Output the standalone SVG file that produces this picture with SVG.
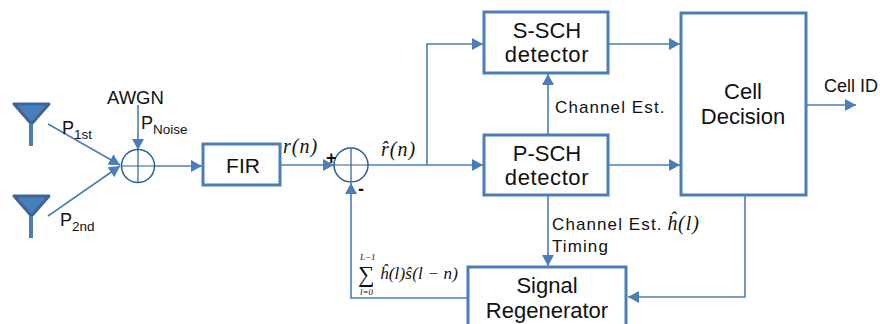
<svg xmlns="http://www.w3.org/2000/svg" width="880" height="324" viewBox="0 0 880 324">
<style>
.box{fill:#fff;stroke:#4a7ebb;stroke-width:3}
.c{fill:none;stroke:#4a7ebb;stroke-width:1.6}
.sum{fill:#fff;stroke:#2f5f96;stroke-width:1.5}
.sx{stroke:#2f5f96;stroke-width:1.2}
text{font-family:"Liberation Sans",Arial,sans-serif;fill:#111}
.b{font-size:22px;text-anchor:middle}
.l{font-size:18px}
.t{font-size:17px;letter-spacing:1.1px}
.s{font-size:13.500px}
.m{font-family:"Liberation Serif","Times New Roman",serif;font-style:italic;font-size:20px;letter-spacing:1px}
.n{font-family:"Liberation Serif","Times New Roman",serif;font-style:italic;font-size:9px}
</style>
<defs>
<marker id="a" markerUnits="userSpaceOnUse" markerWidth="12" markerHeight="12" refX="11" refY="6" orient="auto"><path d="M0 0L11 6L0 12Z" fill="#4a7ebb"/></marker>
<g id="ant"><path d="M14 0H49L31.500 20Z" fill="#4a7ebb" stroke="#3c6595" stroke-width="3" stroke-linejoin="round"/><path d="M31 20V42" stroke="#4a7ebb" stroke-width="4"/></g>
</defs>
<g id="connectors">
<path class="c" d="M48 124L120 165" marker-end="url(#a)"/>
<path class="c" d="M48 216L120 166" marker-end="url(#a)"/>
<path class="c" d="M138 105V150" marker-end="url(#a)"/>
<path class="c" d="M155 166H202" marker-end="url(#a)"/>
<path class="c" d="M281 165H334" marker-end="url(#a)"/>
<path class="c" d="M368 165H483" stroke-width="2" marker-end="url(#a)"/>
<path class="c" d="M427 165V44H483" marker-end="url(#a)"/>
<path class="c" d="M608 44H680" marker-end="url(#a)"/>
<path class="c" d="M608 165H680" marker-end="url(#a)"/>
<path class="c" d="M548 134V74" marker-end="url(#a)"/>
<path class="c" d="M548 196V266" marker-end="url(#a)"/>
<path class="c" d="M745 196V297H628" marker-end="url(#a)"/>
<path class="c" d="M806 105H856" marker-end="url(#a)"/>
<path class="c" d="M468 298H351V183" marker-end="url(#a)"/>
</g>
<g id="antenna1"><use href="#ant" x="0" y="104"/><text class="l" x="62" y="134">P<tspan class="s" dy="5">1st</tspan></text></g>
<g id="antenna2"><use href="#ant" x="0" y="196"/><text class="l" x="60" y="226">P<tspan class="s" dy="5">2nd</tspan></text></g>
<g id="awgn"><text class="l" x="107" y="104" style="font-size:18.500px">AWGN</text><text class="l" x="141" y="129">P<tspan class="s" dy="5">Noise</tspan></text></g>
<g id="sum1"><circle class="sum" cx="138" cy="166" r="16.500"/><path class="sx" d="M121.500 166H154.500M138 149.500V182.500"/></g>
<g id="fir"><rect class="box" x="203" y="144" width="77" height="41"/><text class="b" x="243" y="173" style="font-size:21px">FIR</text></g>
<g id="sum2"><circle class="sum" cx="351" cy="165" r="17"/><path class="sx" d="M334 165H368M351 148V182"/><text x="326" y="164" style="font-size:18px;font-weight:bold">+</text><text x="358" y="195" style="font-size:18px;font-weight:bold">-</text></g>
<g id="labels">
<text class="m" x="283" y="153">r(n)</text>
<text class="m" x="381" y="156">r̂(n)</text>
<text class="t" x="555" y="113">Channel Est.</text>
<text class="t" x="552" y="230">Channel Est.</text>
<text class="m" x="667" y="230">ĥ(l)</text>
<text class="t" x="552" y="252">Timing</text>
<text class="l" x="824" y="92">Cell ID</text>
<text x="358" y="282" style="font-family:'Liberation Serif',serif;font-size:23px">∑</text>
<text class="n" x="360" y="259.500">L−1</text>
<text class="n" x="360" y="295">l=0</text>
<text class="m" x="380" y="279" style="font-size:17px;letter-spacing:.2px">ĥ(l)ŝ(l − n)</text>
</g>
<g id="ssch"><rect class="box" x="484" y="12" width="124" height="61"/><text class="b" x="547" y="38">S-SCH</text><text class="b" x="547" y="62" style="letter-spacing:.6px">detector</text></g>
<g id="psch"><rect class="box" x="484" y="135" width="124" height="60"/><text class="b" x="547" y="161">P-SCH</text><text class="b" x="547" y="185" style="letter-spacing:.6px">detector</text></g>
<g id="cell"><rect class="box" x="681" y="13" width="125" height="182"/><text class="b" x="743" y="99">Cell</text><text class="b" x="743" y="124">Decision</text></g>
<g id="regen"><rect class="box" x="468" y="267" width="158" height="70"/><text class="b" x="547" y="293">Signal</text><text class="b" x="547" y="318">Regenerator</text></g>
</svg>
